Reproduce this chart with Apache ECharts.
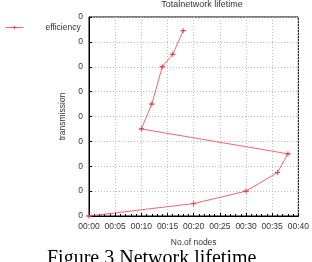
<!DOCTYPE html>
<html>
<head>
<meta charset="utf-8">
<script src="https://cdn.jsdelivr.net/npm/echarts@6/dist/echarts.min.js"></script>
<style>
  html, body { margin: 0; padding: 0; background: #fff; }
  #chart { width: 312px; height: 262px; }
</style>
</head>
<body>
<div id="chart"></div>
<script>
// minutes on the x axis, transmission on the y axis, in drawing order
const minutes = [0, 20, 30, 36, 38, 10, 12, 14, 16, 18];
const transmission = [0, 0.5, 1.0, 1.75, 2.5, 3.5, 4.5, 6.0, 6.5, 7.45];
const seriesName = "efficiency";
const titleText = "Totalnetwork lifetime";
const captionText = "Figure 3 Network lifetime";

const font = "Liberation Sans";
const red = "#e8404a";
const plus = "path://M5 0 L5 10 M0 5 L10 5 Z";

const chart = echarts.init(document.getElementById("chart"));
const option = {
  animation: false,
  title: {
    text: titleText,
    left: 197,
    textAlign: "center",
    top: -5,
    textStyle: { fontFamily: font, fontSize: 9, fontWeight: "normal", color: "#333" },
  },
  legend: {
    left: 0,
    top: 18,
    itemWidth: 18,
    itemHeight: 5,
    data: [seriesName],
    lineStyle: { width: 0.8 },
    itemStyle: { borderWidth: 0.8 },
    textStyle: { fontFamily: font, fontSize: 8.5, color: "#333", padding: [0, 0, 0, 17] },
  },
  grid: {
    left: 89, right: 7, top: 17, height: 199,
    show: true, borderColor: "#000", borderWidth: 1,
  },
  xAxis: {
    type: "value",
    min: 0, max: 40, interval: 5,
    name: "No.of nodes",
    nameLocation: "middle",
    nameGap: 22,
    nameTextStyle: { fontFamily: font, fontSize: 8.5, color: "#333" },
    axisLine: { show: true, lineStyle: { color: "#000" } },
    axisTick: { inside: true, length: 3, lineStyle: { color: "#000" } },
    minorTick: { show: true, splitNumber: 5, length: 2, lineStyle: { color: "#000" } },
    splitLine: { show: true, lineStyle: { color: "#bbb", type: [1, 2] } },
    axisLabel: {
      fontFamily: font, fontSize: 8.5, color: "#333", margin: 6,
      formatter: (v) => "00:" + String(v).padStart(2, "0"),
    },
  },
  yAxis: {
    type: "value",
    min: 0, max: 8, interval: 1,
    name: "transmission",
    nameLocation: "middle",
    nameGap: 21,
    nameTextStyle: { fontFamily: font, fontSize: 8.5, color: "#333" },
    axisLine: { show: true, lineStyle: { color: "#000" } },
    axisTick: { inside: true, length: 3, lineStyle: { color: "#000" } },
    splitLine: { show: true, lineStyle: { color: "#bbb", type: [1, 2] } },
    axisLabel: { fontFamily: font, fontSize: 8.5, color: "#333", margin: 6, formatter: () => "0" },
  },
  series: [{
    name: seriesName,
    type: "line",
    data: minutes.map((m, i) => [m, transmission[i]]),
    color: red,
    lineStyle: { width: 0.8 },
    symbol: plus,
    symbolSize: 5,
    showSymbol: true,
    itemStyle: { color: red, borderColor: red, borderWidth: 1 },
  }],
  graphic: [{
    type: "text",
    left: 47,
    top: 249,
    style: { text: captionText, fontFamily: "Liberation Serif", fontSize: 20, fill: "#000" },
  }],
};
chart.setOption(option);
</script>
</body>
</html>
